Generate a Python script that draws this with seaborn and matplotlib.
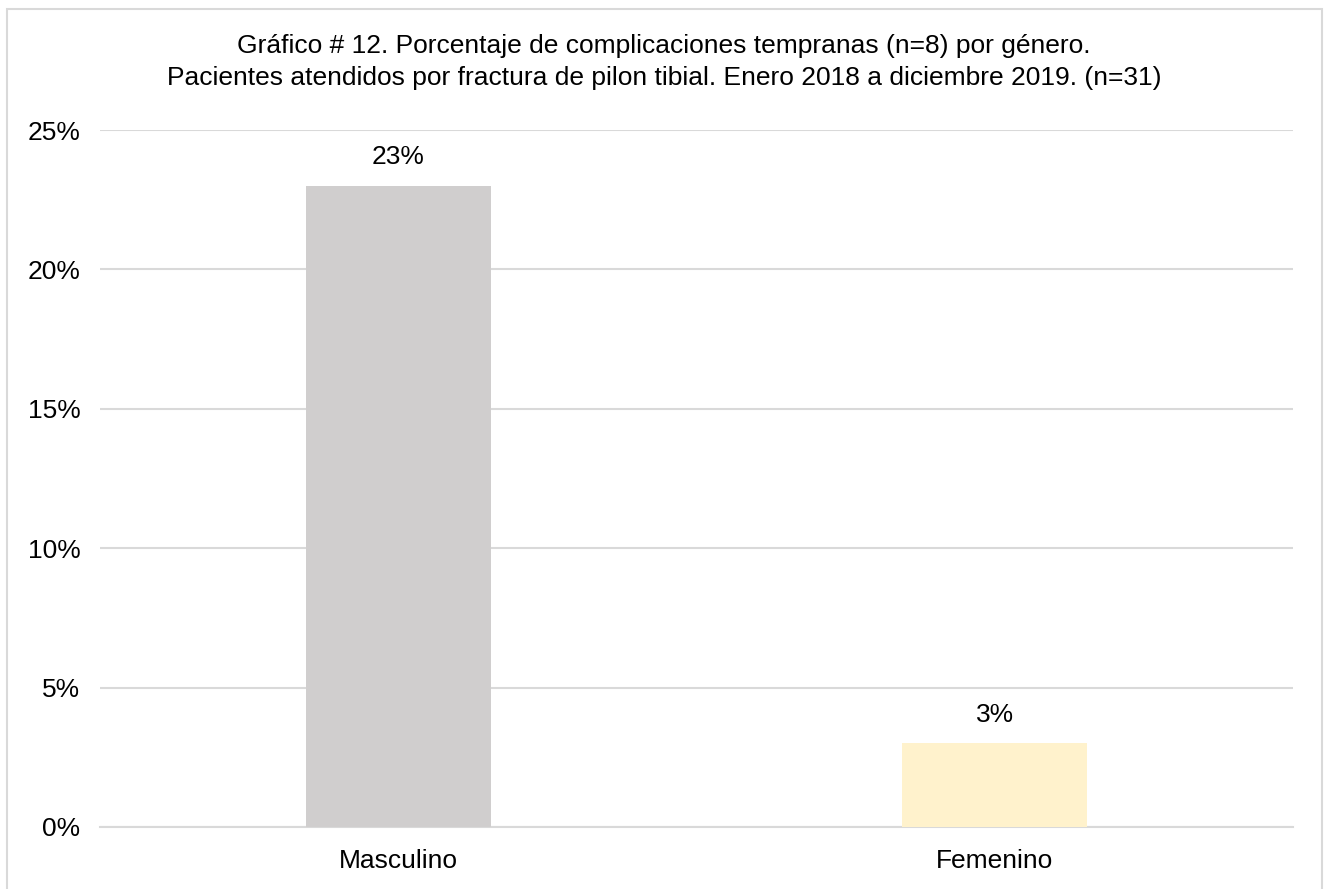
import matplotlib
matplotlib.use("Agg")
import matplotlib.pyplot as plt
import matplotlib.patches as mpatches
from matplotlib.ticker import PercentFormatter
import seaborn as sns
import pandas as pd

# Data
generos = ["Masculino", "Femenino"]
porcentajes = [23, 3]
colores = ["#D0CECE", "#FFF2CC"]

sns.set_style("white")
plt.rcParams["font.family"] = ["Liberation Sans", "DejaVu Sans"]
plt.rcParams["text.color"] = "black"

df = pd.DataFrame({"Genero": generos, "Porcentaje": porcentajes})

fig = plt.figure(figsize=(13.28, 8.89), dpi=100)
ax = fig.add_axes([100/1328, 1 - 827/889, 1193/1328, 697/889])

sns.barplot(x="Genero", y="Porcentaje", data=df, hue="Genero", palette=colores,
            width=0.31, saturation=1, linewidth=0, legend=False, ax=ax, zorder=3)

ax.set_ylim(0, 25)
ax.set_xlim(-0.5, 1.5)
ax.set_yticks([0, 5, 10, 15, 20, 25])
ax.yaxis.set_major_formatter(PercentFormatter(decimals=0))
ax.grid(axis="y", color="#D9D9D9", linewidth=1.5, zorder=0)
ax.set_axisbelow(True)
for s in ["top", "right", "left"]:
    ax.spines[s].set_visible(False)
ax.spines["bottom"].set_color("#D9D9D9")
ax.spines["bottom"].set_linewidth(1.5)
ax.tick_params(axis="both", length=0, labelsize=19, colors="black")
ax.tick_params(axis="x", pad=16)
ax.tick_params(axis="y", pad=14)
ax.set_xlabel("")
ax.set_ylabel("")

# etiquetas de valor sobre las barras
for p, v in zip(ax.patches, porcentajes):
    ax.annotate(f"{v}%", (p.get_x() + p.get_width() / 2, p.get_height()),
                xytext=(0, 12), textcoords="offset points",
                ha="center", va="bottom", fontsize=19, color="black")

fig.text(0.5, 1 - 62/889,
         "Gráfico # 12. Porcentaje de complicaciones tempranas (n=8) por género.\n"
         "Pacientes atendidos por fractura de pilon tibial. Enero 2018 a diciembre 2019. (n=31)",
         ha="center", va="center", fontsize=19, linespacing=1.42, color="black")

border = mpatches.Rectangle((7/1328, -0.05), 1315/1328, 1 - 9/889 + 0.05,
                            transform=fig.transFigure, fill=False,
                            edgecolor="#D9D9D9", linewidth=1.5, clip_on=False)
fig.patches.append(border)

fig.savefig("out.png", dpi=100)
